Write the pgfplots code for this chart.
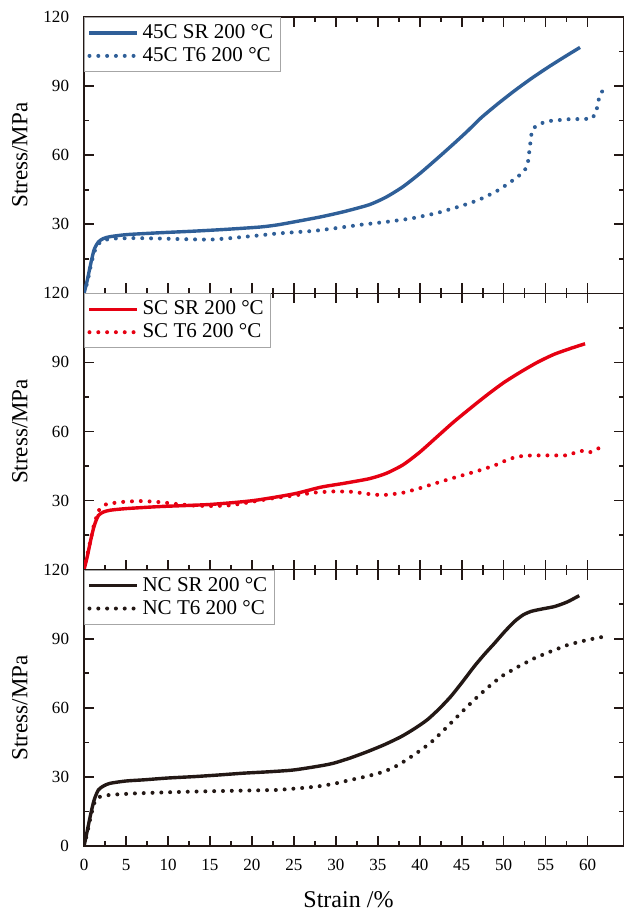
\documentclass[border=0pt]{standalone}
\usepackage{fontspec}
\setmainfont{Liberation Serif}
\usepackage{pgfplots}
\pgfplotsset{compat=1.18}
\definecolor{cblue}{HTML}{2F5F98}
\definecolor{cred}{HTML}{E60012}
\definecolor{cblack}{HTML}{231815}
\definecolor{frame}{HTML}{231815}

\pgfplotsset{
  panel/.style={
    scale only axis,
    width=269.5pt, height=138pt,
    xmin=0, xmax=64.3, ymin=0, ymax=120,
    xtick={0,5,...,60}, minor x tick num=1,
    ytick={0,30,60,90,120}, minor y tick num=1,
    tick align=inside,
    yticklabel pos=left,
    major tick length=5pt, minor tick length=2.5pt,
    axis line style={frame, line width=0.8pt},
    every tick/.style={frame, line width=0.8pt},
    /pgf/number format/assume math mode=true,
    tick label style={font=\fontsize{8.5}{10}\selectfont},
    yticklabel style={xshift=-4pt},
    xticklabel style={yshift=-3pt},
    ylabel={Stress/MPa},
    ylabel style={at={(axis description cs:-0.119,0.5)}, anchor=center,
      font=\fontsize{11.5}{13}\selectfont},
    legend style={at={(axis description cs:0,1)}, anchor=north west,
      draw=gray!70, line width=0.4pt, inner sep=1.5pt,
      font=\fontsize{10.5}{12}\selectfont, row sep=-1pt,
      cells={anchor=west}},
    legend cell align=left,
    legend image code/.code={\draw[##1] (0pt,0pt) -- (23.5pt,0pt);},
  },
  upper/.style={xticklabels={}, yticklabels={,30,60,90,120}},
  sr/.style={line width=1.7pt, smooth, tension=0.4},
  t6/.style={line width=2pt, line cap=round, dash pattern=on 0pt off 4.4pt},
}

\begin{document}
\begin{tikzpicture}
\path[use as bounding box] (-42pt,-33pt) rectangle (269.5pt,422.5pt);

% top panel
\begin{axis}[panel, upper, at={(0pt,276pt)}, anchor=south west]
\addplot[sr, cblue] coordinates {
(0,0)(0.4,6)(0.8,13)(1.2,19)(1.7,22.3)(2.3,23.8)(3.1,24.6)(5.1,25.5)(9,26.3)
(13.1,27)(17,27.8)(21,28.8)(23,29.7)(25,31)(28.2,33.2)(31,35.5)(34,38.5)
(36,41.8)(38,46.3)(40,52)(42,58.3)(44,64.8)(45.7,70.5)(47.3,76.2)
(49.3,82.3)(51.3,88)(53.3,93.3)(55.3,98.2)(57.3,102.8)(59.1,106.8)};
\addlegendentry{45C SR 200 °C}
\addplot[t6, cblue] coordinates {
(0,0)(0.4,5)(0.8,12)(1.2,18)(1.9,22.3)(2.6,23.3)(3.5,23.8)(6,24)(9.1,23.8)
(12,23.5)(15,23.3)(17,23.8)(19,24.5)(21,25.2)(23,26)(25,26.5)(27.4,27.1)
(30,28.3)(33,29.8)(36,31)(39,32.5)(42,34.8)(45,38)(47,40.5)(49,44)
(50.5,47.5)(51.8,51)(52.6,54)(52.9,57)(53.1,63)(53.3,69)(53.5,71.6)
(54.2,73.5)(55.3,74.8)(57.7,75.6)(60.5,75.8)(61,78.4)(61.4,85.4)(62.2,90.9)};
\addlegendentry{45C T6 200 °C}
\end{axis}

% middle panel
\begin{axis}[panel, upper, at={(0pt,138pt)}, anchor=south west]
\addplot[sr, cred] coordinates {
(0,0)(0.4,6)(0.8,13)(1.2,19)(1.7,23.5)(2.3,25)(3.1,25.8)(5,26.5)(9.1,27.4)
(15,28.3)(20.2,30)(25,32.9)(28.2,35.8)(31,37.5)(34,39.5)(36,41.8)(38,45.5)
(40,51)(42,57.5)(44,64)(46,70)(48,75.8)(50,81.2)(52,85.8)(54,90)
(56,93.5)(58,96.1)(59.7,98.1)};
\addlegendentry{SC SR 200 °C}
\addplot[t6, cred] coordinates {
(0,0)(0.5,8.3)(1.1,18.4)(1.7,25.6)(2.7,28.6)(5.1,29.6)(7,29.8)(9.1,29.3)
(11,28.5)(13.1,27.8)(15,27.6)(17,27.8)(18.5,28.5)(20.2,29.6)(22.5,31)
(25,32.2)(27.8,33.6)(30,34)(32,33.8)(34,32.8)(35.5,32.3)(37.8,33.2)
(39.7,35)(41.7,37.3)(43.7,39.5)(45.7,41.6)(47.3,43.3)(48.9,45.2)(50,47)
(51.3,48.8)(52.5,49.5)(53.7,49.6)(55.7,49.6)(57.7,49.6)(58.8,51.3)
(59.7,51.7)(60.3,51)(61.2,52.5)(62.2,54.3)};
\addlegendentry{SC T6 200 °C}
\end{axis}

% bottom panel
\begin{axis}[panel, at={(0pt,0pt)}, anchor=south west,
  xlabel={Strain /\%},
  xlabel style={at={(axis description cs:0.49,0)}, anchor=center,
    yshift=-27pt, font=\fontsize{12}{14}\selectfont}]
\addplot[sr, cblack] coordinates {
(0,0)(0.4,7)(0.8,14)(1.2,20)(1.7,24.3)(2.3,26)(3.1,27.2)(5,28.2)(7.1,28.7)
(10,29.5)(13.1,30.1)(16,30.8)(19,31.6)(22,32.2)(25,33)(28.2,34.8)(29.8,36)
(31.8,38.3)(33.8,41)(35.8,44)(37.8,47.5)(39.4,51)(40.9,54.8)(42.3,59.5)
(43.7,64.9)(45.1,71.3)(46.5,78)(47.7,83.2)(48.9,88)(50.1,93)(51.3,97.5)
(52.3,100.3)(53.3,101.9)(54.7,103)(56.1,104)(57.6,106)(59,108.7)};
\addlegendentry{NC SR 200 °C}
\addplot[t6, cblack] coordinates {
(0,0)(0.4,6)(0.8,13)(1.2,18.5)(1.7,21.2)(3.1,22.2)(6,22.8)(9.1,23.2)
(13,23.6)(17,23.9)(20,24.1)(23,24.3)(25.8,25.1)(27.8,25.8)(29.8,27)
(31.8,28.7)(33.8,30.3)(35.8,32.3)(37.5,35.2)(39,38.8)(40.4,42.3)(41.7,46.1)
(42.9,50.4)(44.1,54.8)(45.3,59.2)(46.5,63.5)(48.1,68.8)(49.7,73.6)
(51.7,77.8)(53.7,81.6)(55.7,84.6)(57.7,87.4)(60,89.5)(62.1,91)};
\addlegendentry{NC T6 200 °C}
\end{axis}
\end{tikzpicture}
\end{document}
